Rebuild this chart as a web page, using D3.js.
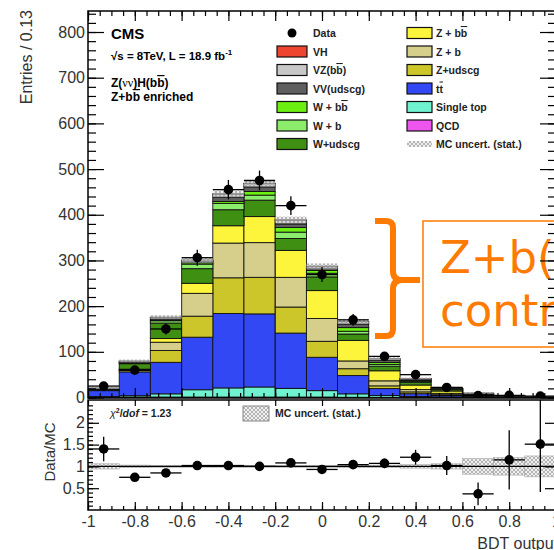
<!DOCTYPE html>
<html>
<head>
<meta charset="utf-8">
<script src="https://cdn.jsdelivr.net/npm/d3@7"></script>
<style>
body { margin: 0; background: #fff; }
svg { display: block; }
text { font-family: "Liberation Sans", Arial, sans-serif; }
</style>
</head>
<body>
<script>
// bins of the BDT output, width 2/15
var binCenters = [-0.933, -0.8, -0.667, -0.533, -0.4, -0.267, -0.133, 0, 0.133, 0.267, 0.4, 0.533, 0.667, 0.8, 0.933];
var binWidth = 0.1333;

// stacked MC, bottom to top
var qcd       = [0.5, 1, 1, 1, 1, 1, 1, 1, 0.5, 0.5, 0.3, 0.2, 0.1, 0, 0];
var singleTop = [1.5, 3, 7, 16, 20, 22, 19, 14, 7.5, 4, 2, 1, 0.5, 0.2, 0.1];
var ttbar     = [13, 52, 69, 115, 163, 160, 121, 73, 40, 15, 6, 3, 1.5, 0.5, 0.2];
var zudscg    = [1, 3, 26, 46, 78, 80, 57, 35, 15, 6, 4, 2, 1, 0.5, 0.2];
var zb        = [0.5, 2, 18, 50, 76, 76, 65, 50, 17, 11, 5, 3, 1.5, 0.5, 0.3];
var zbb       = [0.3, 1, 8, 22, 38, 57, 59, 61, 45, 22, 10, 5, 2, 1, 0.5];
var wudscg    = [2, 12, 34, 32, 35, 36, 26, 30, 14, 10, 6, 3, 1, 0.5, 0.3];
var wb        = [0.3, 2, 5, 10, 14, 11, 14, 8, 6, 4, 2, 1, 0.5, 0.1, 0];
var wbb       = [0.2, 1, 2, 3, 4, 8, 10, 6, 8, 4, 2, 1, 0.5, 0.1, 0];
var vv        = [1, 2, 4, 3, 10, 10, 8, 5, 8, 5, 2, 1.5, 0.5, 0.3, 0.2];
var vz        = [0.5, 1, 2, 3, 6, 7, 8, 4, 5, 3, 2, 1.3, 0.5, 0.3, 0.2];
var vh        = [0, 0, 0, 0, 1, 1, 1, 0.5, 0.5, 0.5, 0.3, 0.1, 0, 0, 0];
var mcErr     = [2, 3, 4, 6, 7, 7, 7, 6, 5, 3, 2, 1.5, 1.5, 1, 0.8];

var dataCounts = [25, 60, 150, 306, 455, 475, 420, 269, 170, 90, 50, 22, 4, 4.6, 3];

var ratio      = [1.40, 0.75, 0.85, 1.02, 1.02, 1.0, 1.08, 0.93, 1.04, 1.07, 1.21, 1.02, 0.37, 1.15, 1.51];
var ratioErr   = [0.28, 0.06, 0.07, 0.06, 0.05, 0.05, 0.05, 0.06, 0.08, 0.11, 0.17, 0.22, 0.26, 0.68, 1.1];
var ratioMcErr = [0.06, 0.03, 0.02, 0.02, 0.02, 0.02, 0.02, 0.02, 0.03, 0.03, 0.04, 0.06, 0.18, 0.2, 0.24];

var xTicks = [-1, -0.8, -0.6, -0.4, -0.2, 0, 0.2, 0.4, 0.6, 0.8, 1];
var yTicks = [0, 100, 200, 300, 400, 500, 600, 700, 800];
var ratioTicks = [0.5, 1, 1.5, 2];

var legendLeft  = ["VH", "VZ(bb)", "VV(udscg)", "W + bb", "W + b", "W+udscg"];
var legendRight = ["Z + bb", "Z + b", "Z+udscg", "tt", "Single top", "QCD"];

var keys = ["qcd", "singleTop", "ttbar", "zudscg", "zb", "zbb", "wudscg", "wb", "wbb", "vv", "vz", "vh"];
var series = { qcd: qcd, singleTop: singleTop, ttbar: ttbar, zudscg: zudscg, zb: zb, zbb: zbb,
               wudscg: wudscg, wb: wb, wbb: wbb, vv: vv, vz: vz, vh: vh };
var colors = { qcd: "#ee55ee", singleTop: "#6ff2cf", ttbar: "#3348f5", zudscg: "#cdc62a", zb: "#d6cf8c",
               zbb: "#fdf53c", wudscg: "#3f8f12", wb: "#8ced6c", wbb: "#6cf012", vv: "#5f5f5f",
               vz: "#c8c8c8", vh: "#ee4530" };
var legendLeftKeys = ["vh", "vz", "vv", "wbb", "wb", "wudscg"];
var legendRightKeys = ["zbb", "zb", "zudscg", "ttbar", "singleTop", "qcd"];

var W = 554, H = 550;
var pLeft = 88, pRight = 556, pTop = 11, mainBottom = 398, rTop = 400, rBottom = 510;

var svg = d3.select("body").append("svg").attr("width", W).attr("height", H);
svg.append("rect").attr("width", W).attr("height", H).attr("fill", "#fff");

var defs = svg.append("defs");
var pat = defs.append("pattern").attr("id", "hatch").attr("patternUnits", "userSpaceOnUse")
  .attr("width", 4).attr("height", 4);
pat.append("rect").attr("width", 4).attr("height", 4).attr("fill", "#e4e4e4").attr("opacity", 0.55);
pat.append("path").attr("d", "M0,0L4,4M4,0L0,4").attr("stroke", "#9a9a9a").attr("stroke-width", 0.7);
defs.append("clipPath").attr("id", "clipMain").append("rect")
  .attr("x", pLeft).attr("y", pTop).attr("width", pRight - pLeft).attr("height", mainBottom - pTop);
defs.append("clipPath").attr("id", "clipRatio").append("rect")
  .attr("x", pLeft).attr("y", rTop).attr("width", pRight - pLeft).attr("height", rBottom - rTop);

var x = d3.scaleLinear().domain([-1, 1]).range([pLeft, pRight]);
var y = d3.scaleLinear().domain([0, 846]).range([397.5, pTop]);
var yr = d3.scaleLinear().domain([0, 2.5]).range([rBottom, rTop + 1]);

// stacked histogram
var table = binCenters.map(function(c, i) {
  var row = { c: c, i: i };
  keys.forEach(function(k) { row[k] = series[k][i]; });
  return row;
});
var stacked = d3.stack().keys(keys)(table);

var main = svg.append("g").attr("clip-path", "url(#clipMain)");
stacked.forEach(function(layer) {
  main.append("g").selectAll("rect").data(layer).enter().append("rect")
    .attr("x", function(d) { return x(d.data.c - binWidth / 2); })
    .attr("width", function(d) { return x(d.data.c + binWidth / 2) - x(d.data.c - binWidth / 2); })
    .attr("y", function(d) { return y(d[1]); })
    .attr("height", function(d) { return Math.max(0, y(d[0]) - y(d[1])); })
    .attr("fill", colors[layer.key])
    .attr("stroke", "#111").attr("stroke-width", 0.9);
});

var totals = table.map(function(r) { return d3.sum(keys, function(k) { return r[k]; }); });
main.append("g").selectAll("rect").data(binCenters).enter().append("rect")
  .attr("x", function(c) { return x(c - binWidth / 2); })
  .attr("width", function(c) { return x(c + binWidth / 2) - x(c - binWidth / 2); })
  .attr("y", function(c, i) { return y(totals[i] + mcErr[i]); })
  .attr("height", function(c, i) { return y(totals[i] - mcErr[i]) - y(totals[i] + mcErr[i]); })
  .attr("fill", "url(#hatch)");

// data points
var pts = main.append("g").selectAll("g").data(dataCounts).enter().append("g");
pts.append("line")
  .attr("x1", function(d, i) { return x(binCenters[i] - binWidth / 2); })
  .attr("x2", function(d, i) { return x(binCenters[i] + binWidth / 2); })
  .attr("y1", function(d) { return y(d); }).attr("y2", function(d) { return y(d); })
  .attr("stroke", "#000").attr("stroke-width", 1.3);
pts.append("line")
  .attr("x1", function(d, i) { return x(binCenters[i]); })
  .attr("x2", function(d, i) { return x(binCenters[i]); })
  .attr("y1", function(d) { return y(d + Math.sqrt(d)); })
  .attr("y2", function(d) { return y(Math.max(0, d - Math.sqrt(d))); })
  .attr("stroke", "#000").attr("stroke-width", 1.3);
pts.append("circle")
  .attr("cx", function(d, i) { return x(binCenters[i]); })
  .attr("cy", function(d) { return y(d); })
  .attr("r", 4.8).attr("fill", "#000");

// orange annotation (sits under the frame ticks)
var orange = "#ff7a00";
svg.append("path")
  .attr("d", "M375,221 H386 Q393,221 393,228 V271 Q393,280 402,280 H420 M402,280 Q393,280 393,289 V329 Q393,336 386,336 H375")
  .attr("fill", "none").attr("stroke", orange).attr("stroke-width", 6);
svg.append("rect").attr("x", 423).attr("y", 221).attr("width", 150).attr("height", 126)
  .attr("fill", "none").attr("stroke", orange).attr("stroke-width", 1.5);
var note = svg.append("text").style("font-family", "'DejaVu Sans', Verdana, sans-serif")
  .attr("font-size", 45).attr("fill", orange);
note.append("tspan").attr("x", 440).attr("y", 273).text("Z+b(b)");
note.append("tspan").attr("x", 440).attr("y", 326).text("contribution");

// ratio panel
var rp = svg.append("g").attr("clip-path", "url(#clipRatio)");
rp.append("g").selectAll("rect").data(ratioMcErr).enter().append("rect")
  .attr("x", function(e, i) { return x(binCenters[i] - binWidth / 2); })
  .attr("width", function(e, i) { return x(binCenters[i] + binWidth / 2) - x(binCenters[i] - binWidth / 2); })
  .attr("y", function(e) { return yr(1 + e); })
  .attr("height", function(e) { return yr(1 - e) - yr(1 + e); })
  .attr("fill", "url(#hatch)").attr("stroke", "#aaa").attr("stroke-width", 0.6);
rp.append("line").attr("x1", pLeft).attr("x2", pRight).attr("y1", yr(1)).attr("y2", yr(1))
  .attr("stroke", "#000").attr("stroke-width", 1.3);
var rpts = rp.append("g").selectAll("g").data(ratio).enter().append("g");
rpts.append("line")
  .attr("x1", function(d, i) { return x(binCenters[i] - binWidth / 2); })
  .attr("x2", function(d, i) { return x(binCenters[i] + binWidth / 2); })
  .attr("y1", function(d) { return yr(d); }).attr("y2", function(d) { return yr(d); })
  .attr("stroke", "#000").attr("stroke-width", 1.3);
rpts.append("line")
  .attr("x1", function(d, i) { return x(binCenters[i]); })
  .attr("x2", function(d, i) { return x(binCenters[i]); })
  .attr("y1", function(d, i) { return yr(d + ratioErr[i]); })
  .attr("y2", function(d, i) { return yr(d - ratioErr[i]); })
  .attr("stroke", "#000").attr("stroke-width", 1.3);
rpts.append("circle")
  .attr("cx", function(d, i) { return x(binCenters[i]); })
  .attr("cy", function(d) { return yr(d); })
  .attr("r", 4.8).attr("fill", "#000");

// axes / ticks
function clean(g) {
  g.select(".domain").remove();
  g.selectAll(".tick line").attr("stroke", "#000").attr("stroke-width", 1.2);
  g.selectAll("text").attr("font-size", 16).attr("fill", "#333");
}
var xMinor = d3.range(-1, 1.001, 0.05);
var yMinor = d3.range(0, 841, 20);
var rMinor = d3.range(0.1, 2.45, 0.1);

svg.append("g").attr("transform", "translate(" + pLeft + ",0)")
  .call(d3.axisLeft(y).tickValues(yTicks).tickSize(-16).tickPadding(3).tickFormat(d3.format("d"))).call(clean);
svg.append("g").attr("transform", "translate(" + pLeft + ",0)")
  .call(d3.axisLeft(y).tickValues(yMinor).tickSize(-8).tickFormat("")).call(clean);
svg.append("g").attr("transform", "translate(" + pRight + ",0)")
  .call(d3.axisRight(y).tickValues(yTicks).tickSize(-16).tickFormat("")).call(clean);
svg.append("g").attr("transform", "translate(" + pRight + ",0)")
  .call(d3.axisRight(y).tickValues(yMinor).tickSize(-8).tickFormat("")).call(clean);

[[pTop, "top"], [mainBottom, "bottom"]].forEach(function(p) {
  var ax = p[1] === "top" ? d3.axisTop : d3.axisBottom;
  svg.append("g").attr("transform", "translate(0," + p[0] + ")")
    .call(ax(x).tickValues(xTicks).tickSize(-10).tickFormat("")).call(clean);
  svg.append("g").attr("transform", "translate(0," + p[0] + ")")
    .call(ax(x).tickValues(xMinor).tickSize(-5).tickFormat("")).call(clean);
});

svg.append("g").attr("transform", "translate(" + pLeft + ",0)")
  .call(d3.axisLeft(yr).tickValues(ratioTicks).tickSize(-11).tickPadding(3).tickFormat(function(d) { return String(d); })).call(clean);
svg.append("g").attr("transform", "translate(" + pLeft + ",0)")
  .call(d3.axisLeft(yr).tickValues(rMinor).tickSize(-5).tickFormat("")).call(clean);
svg.append("g").attr("transform", "translate(" + pRight + ",0)")
  .call(d3.axisRight(yr).tickValues(ratioTicks).tickSize(-11).tickFormat("")).call(clean);
svg.append("g").attr("transform", "translate(0," + rTop + ")")
  .call(d3.axisTop(x).tickValues(xTicks).tickSize(-6).tickFormat("")).call(clean);
svg.append("g").attr("transform", "translate(0," + rBottom + ")")
  .call(d3.axisBottom(x).tickValues(xTicks).tickSize(-8).tickPadding(6)
    .tickFormat(function(d) { return String(+d.toFixed(1)); })).call(clean);
svg.append("g").attr("transform", "translate(0," + rBottom + ")")
  .call(d3.axisBottom(x).tickValues(xMinor).tickSize(-4).tickFormat("")).call(clean);

// frames
svg.append("rect").attr("x", pLeft).attr("y", pTop).attr("width", pRight - pLeft).attr("height", mainBottom - pTop)
  .attr("fill", "none").attr("stroke", "#000").attr("stroke-width", 1.5);
svg.append("rect").attr("x", pLeft).attr("y", rTop).attr("width", pRight - pLeft).attr("height", rBottom - rTop)
  .attr("fill", "none").attr("stroke", "#000").attr("stroke-width", 1.5);

// axis titles
svg.append("text").attr("transform", "translate(32,10) rotate(-90)").attr("text-anchor", "end")
  .attr("font-size", 16).attr("fill", "#333").text("Entries / 0.13");
svg.append("text").attr("transform", "translate(55,452) rotate(-90)").attr("text-anchor", "middle")
  .attr("font-size", 15).attr("fill", "#333").text("Data/MC");
svg.append("text").attr("x", 558).attr("y", 549).attr("text-anchor", "end")
  .attr("font-size", 16).attr("fill", "#333").text("BDT output");

// CMS labels
svg.append("text").attr("x", 111).attr("y", 39).attr("font-size", 15).attr("font-weight", "bold").text("CMS");
var t1 = svg.append("text").attr("x", 111).attr("y", 60).attr("font-size", 11.5).attr("font-weight", "bold");
t1.append("tspan").text("\u221As =  8TeV, L = 18.9 fb");
t1.append("tspan").attr("font-size", 8).attr("dy", -5).text("-1");
var t2 = svg.append("text").attr("x", 111).attr("y", 87).attr("font-size", 12).attr("font-weight", "bold");
t2.append("tspan").text("Z(");
t2.append("tspan").attr("font-weight", "normal").attr("font-family", "'Liberation Serif', serif").text("\u03BD\u03BD");
t2.append("tspan").text(")H(b");
t2.append("tspan").style("text-decoration", "overline").text("b");
t2.append("tspan").text(")");
var t3 = svg.append("text").attr("x", 111).attr("y", 101).attr("font-size", 12).attr("font-weight", "bold");
t3.append("tspan").text("Z+b");
t3.append("tspan").style("text-decoration", "overline").text("b");
t3.append("tspan").text(" enriched");

// legend
function legText(g, label, xx, yy) {
  var t = g.append("text").attr("x", xx).attr("y", yy + 4).attr("font-size", 10.5).attr("font-weight", "bold").attr("fill", "#222");
  var m = label.match(/^(.*b)b(\))?$/);
  if (m && label.indexOf("bb") >= 0) {
    t.append("tspan").text(m[1]);
    t.append("tspan").style("text-decoration", "overline").text("b");
    if (m[2]) t.append("tspan").text(m[2]);
  } else if (label === "tt") {
    t.append("tspan").text("t");
    t.append("tspan").style("text-decoration", "overline").text("t");
  } else {
    t.text(label);
  }
}
var leg = svg.append("g");
var rowY = function(i) { return 33 + i * 18.5; };
leg.append("circle").attr("cx", 292).attr("cy", rowY(0)).attr("r", 4.5).attr("fill", "#000");
legText(leg, "Data", 313, rowY(0));
legendLeft.forEach(function(lab, i) {
  leg.append("rect").attr("x", 277).attr("y", rowY(i + 1) - 5.5).attr("width", 30).attr("height", 11)
    .attr("fill", colors[legendLeftKeys[i]]).attr("stroke", "#111").attr("stroke-width", 1.2);
  legText(leg, lab, 313, rowY(i + 1));
});
legendRight.forEach(function(lab, i) {
  leg.append("rect").attr("x", 407).attr("y", rowY(i) - 5.5).attr("width", 25).attr("height", 11)
    .attr("fill", colors[legendRightKeys[i]]).attr("stroke", "#111").attr("stroke-width", 1.2);
  legText(leg, lab, 436, rowY(i));
});
leg.append("rect").attr("x", 407).attr("y", rowY(6) - 3).attr("width", 25).attr("height", 6).attr("fill", "url(#hatch)");
legText(leg, "MC uncert. (stat.)", 436, rowY(6));

// ratio panel labels
var chi = svg.append("text").attr("x", 110).attr("y", 417).attr("font-size", 10.5).attr("font-weight", "bold").attr("fill", "#222");
chi.append("tspan").attr("font-style", "italic").attr("font-weight", "normal").text("\u03C7");
chi.append("tspan").attr("font-size", 7).attr("dy", -4).text("2");
chi.append("tspan").attr("dy", 4).text("/");
chi.append("tspan").attr("font-style", "italic").text("dof");
chi.append("tspan").text(" = 1.23");
svg.append("rect").attr("x", 243).attr("y", 406).attr("width", 26).attr("height", 15)
  .attr("fill", "url(#hatch)").attr("stroke", "#888").attr("stroke-width", 1);
svg.append("text").attr("x", 275).attr("y", 417).attr("font-size", 10.5).attr("font-weight", "bold").attr("fill", "#222")
  .text("MC uncert. (stat.)");
</script>
</body>
</html>
